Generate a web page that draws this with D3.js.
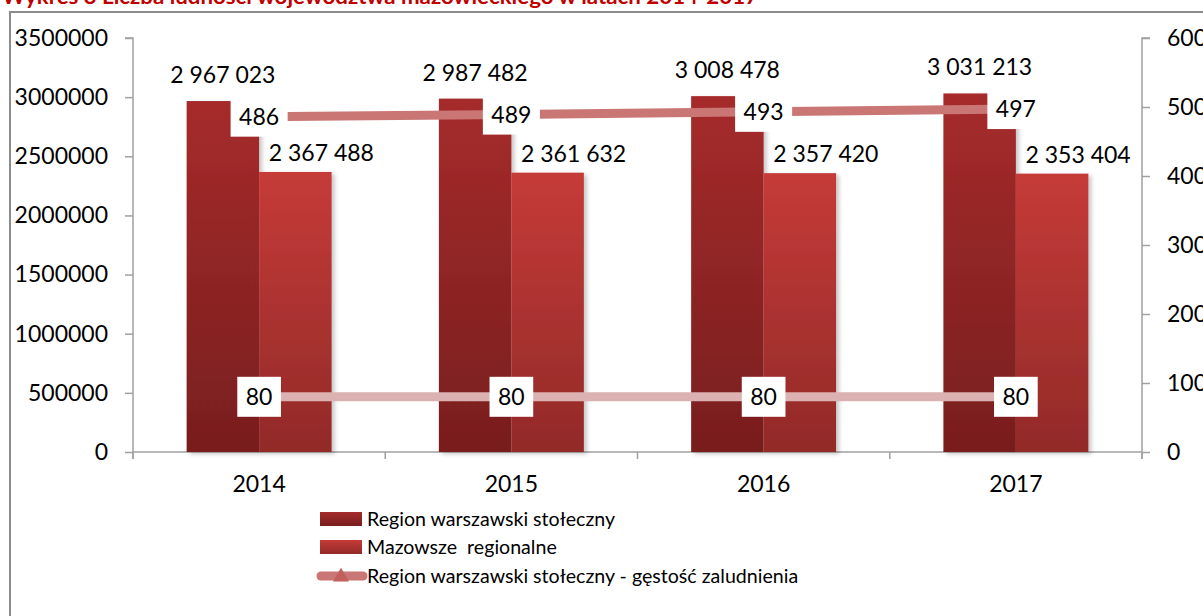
<!DOCTYPE html>
<html>
<head>
<meta charset="utf-8">
<script src="https://cdn.jsdelivr.net/npm/d3@7"></script>
<style>
  html, body { margin: 0; padding: 0; background: #fff; }
  svg { display: block; font-family: Lato, "Open Sans", sans-serif; }
</style>
</head>
<body>
<svg id="chart" width="1203" height="616"></svg>
<script>
// ---------- data ----------
const years = ["2014", "2015", "2016", "2017"];
const warszawski = [2967023, 2987482, 3008478, 3031213];
const mazowsze = [2367488, 2361632, 2357420, 2353404];
const gestoscWarszawski = [486, 489, 493, 497];
const gestoscMazowsze = [80, 80, 80, 80];
const leftTicks = [0, 500000, 1000000, 1500000, 2000000, 2500000, 3000000, 3500000];
const rightTicks = [0, 100, 200, 300, 400, 500, 600];
const seriesNames = ["Region warszawski stołeczny", "Mazowsze  regionalne", "Region warszawski stołeczny - gęstość zaludnienia"];
const titleText = "Wykres 3 Liczba ludności województwa mazowieckiego w latach 2014-2017";

// ---------- layout ----------
const svg = d3.select("#chart");
const plot = { left: 133, right: 1142, top: 38, bottom: 452 };
const fontSize = 23;

const x = d3.scaleBand().domain(years).range([plot.left, plot.right]).paddingInner(0).paddingOuter(0);
const xs = d3.scaleBand().domain(["w", "m"]).range([0, x.bandwidth()]).paddingInner(0).paddingOuter(0.74);
const yL = d3.scaleLinear().domain([0, 3500000]).range([plot.bottom, plot.top]);
const yR = d3.scaleLinear().domain([0, 600]).range([plot.bottom, plot.top]);
const fmt = d3.formatLocale({ decimal: ",", thousands: " ", grouping: [3], currency: ["", ""] }).format(",d");

// ---------- defs ----------
const defs = svg.append("defs");
function grad(id, top, bottom) {
  const g = defs.append("linearGradient").attr("id", id).attr("x1", 0).attr("y1", 0).attr("x2", 0).attr("y2", 1);
  g.append("stop").attr("offset", "0%").attr("stop-color", top);
  g.append("stop").attr("offset", "100%").attr("stop-color", bottom);
}
grad("gW", "#a62b2b", "#781e1e");
grad("gM", "#c53b38", "#922a28");
const f = defs.append("filter").attr("id", "shadow").attr("x", "-20%").attr("y", "-5%").attr("width", "140%").attr("height", "115%");
f.append("feDropShadow").attr("dx", 3).attr("dy", 2).attr("stdDeviation", 2).attr("flood-color", "#000").attr("flood-opacity", 0.22);

// ---------- frame & title ----------
svg.append("path").attr("d", "M10,616 L10,12 L1203,12").attr("fill", "none").attr("stroke", "#8c8c8c").attr("stroke-width", 2);
svg.append("text").attr("x", 2).attr("y", 4).attr("font-size", 21).attr("font-weight", "bold")
  .attr("fill", "#c00000").attr("textLength", 756).attr("lengthAdjust", "spacingAndGlyphs").text(titleText);

// ---------- axes ----------
const axisColor = "#a0a0a0";
const gL = svg.append("g").attr("transform", `translate(${plot.left},0)`)
  .call(d3.axisLeft(yL).tickValues(leftTicks).tickSize(8).tickPadding(17).tickFormat(d3.format("d")));
const gR = svg.append("g").attr("transform", `translate(${plot.right},0)`)
  .call(d3.axisRight(yR).tickValues(rightTicks).tickSize(8).tickPadding(17).tickFormat(d3.format("d")));
[gL, gR].forEach(g => {
  g.selectAll("path, line").attr("stroke", axisColor).attr("stroke-width", 1.5);
  g.selectAll("text").attr("font-size", fontSize).attr("font-family", "Lato, sans-serif").attr("fill", "#000");
});
gL.select(".domain").attr("d", `M-8,${plot.top}H0V${plot.bottom + 7}`);
gR.select(".domain").attr("d", `M8,${plot.top}H0V${plot.bottom + 7}`);

const gB = svg.append("g").attr("transform", `translate(0,${plot.bottom})`)
  .call(d3.axisBottom(x).tickSize(0).tickPadding(24));
gB.select(".domain").attr("d", `M${plot.left},0H${plot.right}`).attr("stroke", axisColor).attr("stroke-width", 1.5);
gB.selectAll("text").attr("font-size", fontSize).attr("font-family", "Lato, sans-serif").attr("fill", "#000");
const bounds = years.map(d => x(d)).concat([x(years[years.length - 1]) + x.bandwidth()]);
svg.append("g").selectAll("line").data(bounds).join("line")
  .attr("x1", d => d).attr("x2", d => d).attr("y1", plot.bottom).attr("y2", plot.bottom + 7)
  .attr("stroke", axisColor).attr("stroke-width", 1.5);

// ---------- bars ----------
const barData = years.map((yr, i) => [
  { yr, key: "w", v: warszawski[i] },
  { yr, key: "m", v: mazowsze[i] }
]).flat();
svg.append("g").attr("filter", "url(#shadow)").selectAll("rect").data(barData).join("rect")
  .attr("x", d => x(d.yr) + xs(d.key))
  .attr("y", d => yL(d.v))
  .attr("width", xs.bandwidth())
  .attr("height", d => yL(0) - yL(d.v))
  .attr("fill", d => d.key === "w" ? "url(#gW)" : "url(#gM)");

// ---------- lines ----------
const cx = yr => x(yr) + x.bandwidth() / 2;
function drawLine(vals, color) {
  const pts = years.map((yr, i) => [cx(yr), yR(vals[i])]);
  svg.append("path").attr("d", d3.line()(pts)).attr("fill", "none")
    .attr("stroke", color).attr("stroke-width", 9).attr("stroke-linecap", "butt");
}
drawLine(gestoscMazowsze, "#dcb1b1");
drawLine(gestoscWarszawski, "#c97674");

function lineLabels(vals) {
  const g = svg.append("g");
  years.forEach((yr, i) => {
    const px = cx(yr), py = yR(vals[i]);
    const lg = g.append("g");
    const t = lg.append("text").attr("x", px).attr("y", py).attr("dy", "0.36em")
      .attr("text-anchor", "middle").attr("font-size", fontSize).text(vals[i]);
    const w = t.node().getComputedTextLength() + 17;
    lg.insert("rect", "text").attr("x", px - w / 2).attr("y", py - 20).attr("width", w).attr("height", 40).attr("fill", "#fff");
  });
}
lineLabels(gestoscMazowsze);
lineLabels(gestoscWarszawski);

// ---------- bar labels ----------
svg.append("g").selectAll("text").data(barData).join("text")
  .attr("x", d => x(d.yr) + xs(d.key) + xs.bandwidth() / 2 + (d.key === "m" ? 26 : 0))
  .attr("y", d => yL(d.v) - (d.key === "w" ? 18 : 11))
  .attr("text-anchor", "middle").attr("font-size", fontSize).attr("fill", "#000")
  .text(d => fmt(d.v));

// ---------- legend ----------
const lg = svg.append("g");
const legX = 320, swW = 42, textX = 367;
const rowsY = [519, 547, 576];
lg.append("rect").attr("x", legX).attr("y", rowsY[0] - 7).attr("width", swW).attr("height", 14).attr("fill", "url(#gW)");
lg.append("rect").attr("x", legX).attr("y", rowsY[1] - 7).attr("width", swW).attr("height", 14).attr("fill", "url(#gM)");
lg.append("line").attr("x1", legX + 1).attr("x2", legX + swW + 1).attr("y1", rowsY[2]).attr("y2", rowsY[2])
  .attr("stroke", "#c97674").attr("stroke-width", 9).attr("stroke-linecap", "round");
lg.append("path").attr("d", d3.symbol(d3.symbolTriangle, 110)()).attr("transform", `translate(${legX + 21},${rowsY[2] + 1})`)
  .attr("fill", "#c15f5c");
seriesNames.forEach((s, i) => {
  lg.append("text").attr("x", textX).attr("y", rowsY[i] + 7).attr("font-size", 19.6)
    .style("white-space", "pre").attr("fill", "#000").text(s);
});
</script>
</body>
</html>
